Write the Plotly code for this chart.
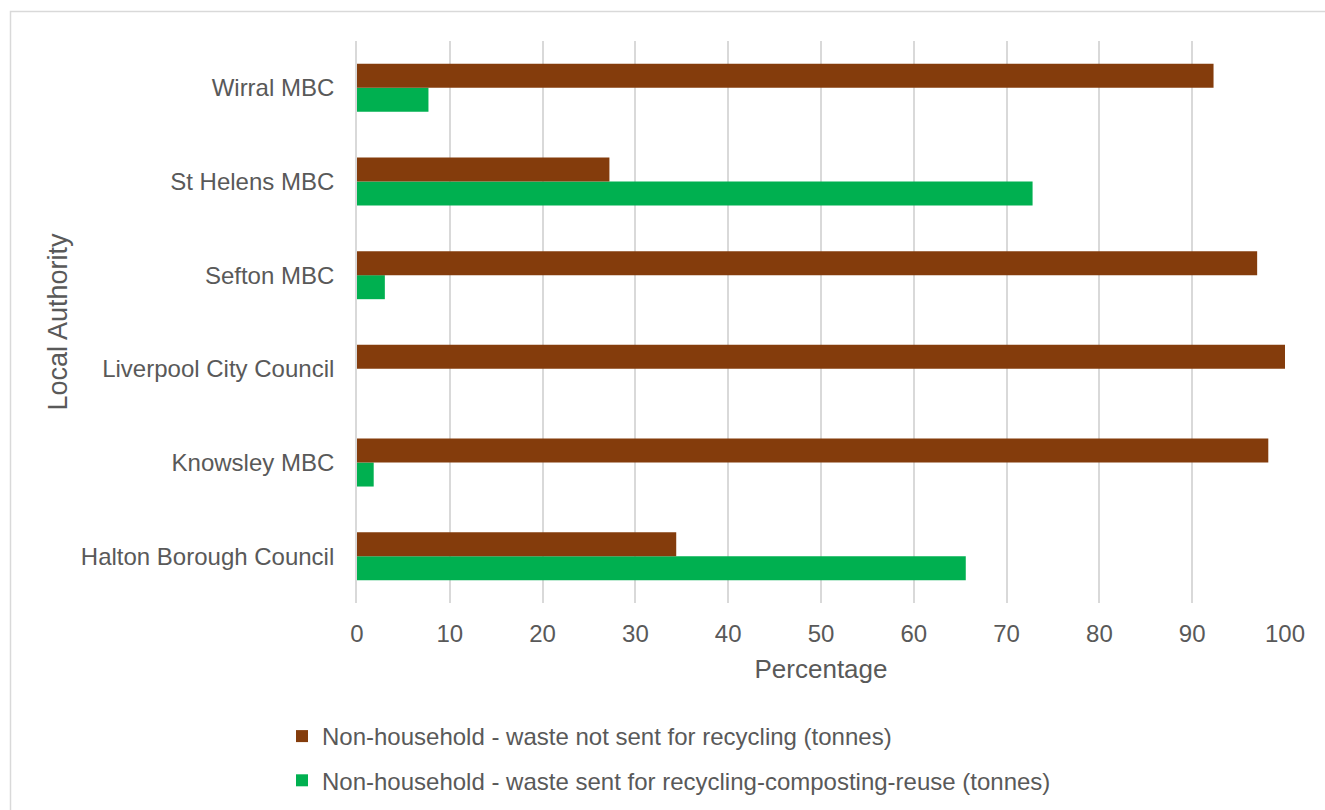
import plotly.graph_objects as go

# Local authorities, listed bottom to top on the category axis
authorities = [
    "Halton Borough Council",
    "Knowsley MBC",
    "Liverpool City Council",
    "Sefton MBC",
    "St Helens MBC",
    "Wirral MBC",
]

# Share of non-household waste (%)
not_recycled = [34.4, 98.2, 100.0, 97.0, 27.2, 92.3]
recycled = [65.6, 1.8, 0.0, 3.0, 72.8, 7.7]

x_ticks = list(range(0, 101, 10))

name_not_recycled = "Non-household - waste not sent for recycling (tonnes)"
name_recycled = "Non-household - waste sent for recycling-composting-reuse (tonnes)"

BROWN = "#843C0C"
GREEN = "#00B050"
TEXT = "#595959"
GRID = "#D9D9D9"
FONT = "Liberation Sans, Arial, sans-serif"

W, H = 1325, 810
ML, MR, MT, MB = 357, 40, 41, 207
PW, PH = W - ML - MR, H - MT - MB


def px_to_paper_x(px):
    return (px - ML) / PW


def px_to_paper_y(py):
    return (H - MB - py) / PH


fig = go.Figure()

# In horizontal grouped bars the first trace sits lowest in each group
fig.add_trace(go.Bar(
    y=authorities, x=recycled, orientation="h", name=name_recycled,
    marker=dict(color=GREEN, line=dict(width=0)),
    legendrank=2, legendgroup="recycled",
))
fig.add_trace(go.Bar(
    y=authorities, x=not_recycled, orientation="h", name=name_not_recycled,
    marker=dict(color=BROWN, line=dict(width=0)),
    legendrank=1, legendgroup="not_recycled",
))

# Outer chart border
fig.add_shape(
    type="rect", xref="paper", yref="paper",
    x0=px_to_paper_x(10.5), x1=px_to_paper_x(1345),
    y0=px_to_paper_y(835), y1=px_to_paper_y(11.5),
    line=dict(color=GRID, width=1.5), fillcolor="rgba(0,0,0,0)", layer="below",
)

fig.update_layout(
    width=W, height=H,
    margin=dict(l=ML, r=MR, t=MT, b=MB, pad=0, autoexpand=False),
    paper_bgcolor="white", plot_bgcolor="white",
    barmode="group", bargap=0.487, bargroupgap=0,
    font=dict(family=FONT, color=TEXT, size=24),
    showlegend=True,
    legend=dict(
        x=px_to_paper_x(282), y=px_to_paper_y(714),
        xanchor="left", yanchor="top",
        font=dict(family=FONT, color=TEXT, size=24),
        tracegroupgap=10, itemwidth=30,
        bgcolor="rgba(0,0,0,0)",
    ),
    xaxis=dict(
        range=[0, 100], tickvals=x_ticks, ticktext=[str(v) for v in x_ticks],
        showgrid=True, gridcolor=GRID, gridwidth=1.8,
        zeroline=False, showline=False, ticks="",
        ticklabelstandoff=14,
        tickfont=dict(family=FONT, color=TEXT, size=24),
        title=dict(text="Percentage", standoff=13,
                   font=dict(family=FONT, color=TEXT, size=26)),
        fixedrange=True,
    ),
    yaxis=dict(
        type="category", categoryorder="array", categoryarray=authorities,
        showgrid=False, zeroline=False,
        showline=True, linecolor=GRID, linewidth=1.8, ticks="",
        ticklabelstandoff=16,
        tickfont=dict(family=FONT, color=TEXT, size=24),
        title=dict(text="Local Authority", standoff=5,
                   font=dict(family=FONT, color=TEXT, size=27)),
        fixedrange=True,
    ),
)

fig.write_html("out.html", config={"displayModeBar": False})
